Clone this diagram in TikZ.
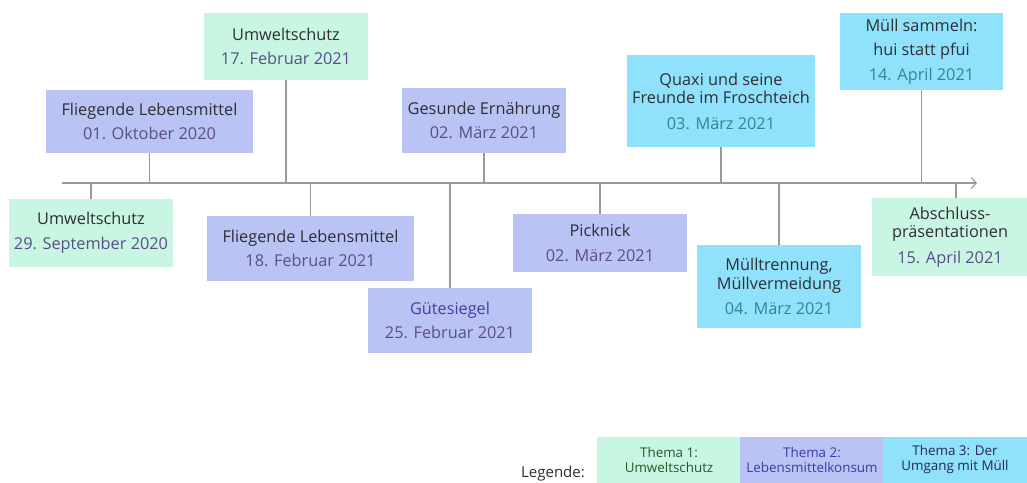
\documentclass[tikz,border=0pt]{standalone}
\usepackage{fontspec}
\setmainfont{Open Sans}
\newfontfamily\legfont{Open Sans}
\usepackage{xcolor}
\usetikzlibrary{arrows.meta}
\definecolor{umwelt}{HTML}{C9F5E3}
\definecolor{lebens}{HTML}{B9C4F4}
\definecolor{muell}{HTML}{8FE1FC}
\definecolor{titel}{HTML}{2E2E33}
\definecolor{datum}{HTML}{5B4E86}
\definecolor{datumb}{HTML}{3D7F97}
\definecolor{achse}{HTML}{9A9A9A}

\begin{document}
\begin{tikzpicture}[x=1pt,y=-1pt]
  \tikzstyle{evt}=[rectangle,inner sep=2,align=center,text=titel,
    font=\fontsize{16.3}{18.5}\selectfont]
  \tikzstyle{gruen}=[evt,fill=umwelt]
  \tikzstyle{lila}=[evt,fill=lebens]
  \tikzstyle{blau}=[evt,fill=muell]
  \tikzstyle{strich}=[draw=achse,line width=1.1pt]
  \tikzstyle{leg}=[rectangle,minimum width=144,minimum height=46,align=center,
    font=\legfont\fontsize{13.4}{15}\selectfont]
  \useasboundingbox (0,0) rectangle (1027,482);
  % timeline
  \coordinate (start) at (62,183);
  \coordinate (ende) at (977,183);
  \draw[strich,-{Straight Barb[length=5pt,width=11pt]}] (start) -- (ende);
  % events above
  \node(e2)[gruen,minimum width=164,minimum height=67] at (286,46.5)
    {Umweltschutz\\[6pt]\textcolor{datum}{17. Februar 2021}};
  \node(e1)[lila,minimum width=207,minimum height=63] at (149.5,121.5)
    {Fliegende Lebensmittel\\[6pt]\textcolor{datum}{01. Oktober 2020}};
  \node(e5)[lila,minimum width=164,minimum height=65] at (484,120.5)
    {Gesunde Ernährung\\[6pt]\textcolor{datum}{02. März 2021}};
  \node(e8)[blau,minimum width=188,minimum height=92] at (721,101)
    {Quaxi und seine\\Freunde im Froschteich\\[7pt]\textcolor{datumb}{03. März 2021}};
  \node(e10)[blau,minimum width=163,minimum height=77] at (921.5,51.5)
    {Müll sammeln:\\[6pt]hui statt pfui\\[6pt]\textcolor{datumb}{14. April 2021}};
  % events below
  \node(e0)[gruen,minimum width=164,minimum height=68] at (91,233)
    {Umweltschutz\\[6pt]\textcolor{datum}{29. September 2020}};
  \node(e3)[lila,minimum width=207,minimum height=65] at (310.5,248.5)
    {Fliegende Lebensmittel\\[6pt]\textcolor{datum}{18. Februar 2021}};
  \node(e4)[lila,minimum width=164,minimum height=65,text=datum!80!blue] at (450,320.5)
    {Gütesiegel\\[6pt]\textcolor{datum}{25. Februar 2021}};
  \node(e6)[lila,minimum width=174,minimum height=58] at (600,243)
    {Picknick\\[6pt]\textcolor{datum}{02. März 2021}};
  \node(e9)[blau,minimum width=164,minimum height=83] at (779,286.5)
    {Mülltrennung,\\Müllvermeidung\\[7pt]\textcolor{datumb}{04. März 2021}};
  \node(e11)[gruen,minimum width=156,minimum height=78] at (950,237)
    {Abschluss-\\präsentationen\\[7pt]\textcolor{datum}{15. April 2021}};
  % ticks
  \foreach \e in {e1,e2,e5,e8,e10}
    \draw[strich] (\e.south) -- (\e.south |- start);
  \foreach \e in {e0,e3,e4,e6,e9}
    \draw[strich] (\e.north) -- (\e.north |- start);
  \coordinate (t11) at (956,183);
  \draw[strich] (t11) -- (t11 |- e11.north);
  % legend
  \node(leg1)[leg,fill=umwelt,text=titel!80!green] at (669,460)
    {Thema 1:\\Umweltschutz};
  \node(leg2)[leg,fill=lebens,text=datum!70!blue] at (812,460)
    {Thema 2:\\Lebensmittelkonsum};
  \node(leg3)[leg,fill=muell,text=titel!80!blue] at (955,460)
    {Thema 3: Der\\Umgang mit Müll};
  \node(legtxt)[font=\legfont\fontsize{15}{17}\selectfont,text=titel,anchor=base,
    inner sep=0] at (553,477) {Legende:};
\end{tikzpicture}
\end{document}
